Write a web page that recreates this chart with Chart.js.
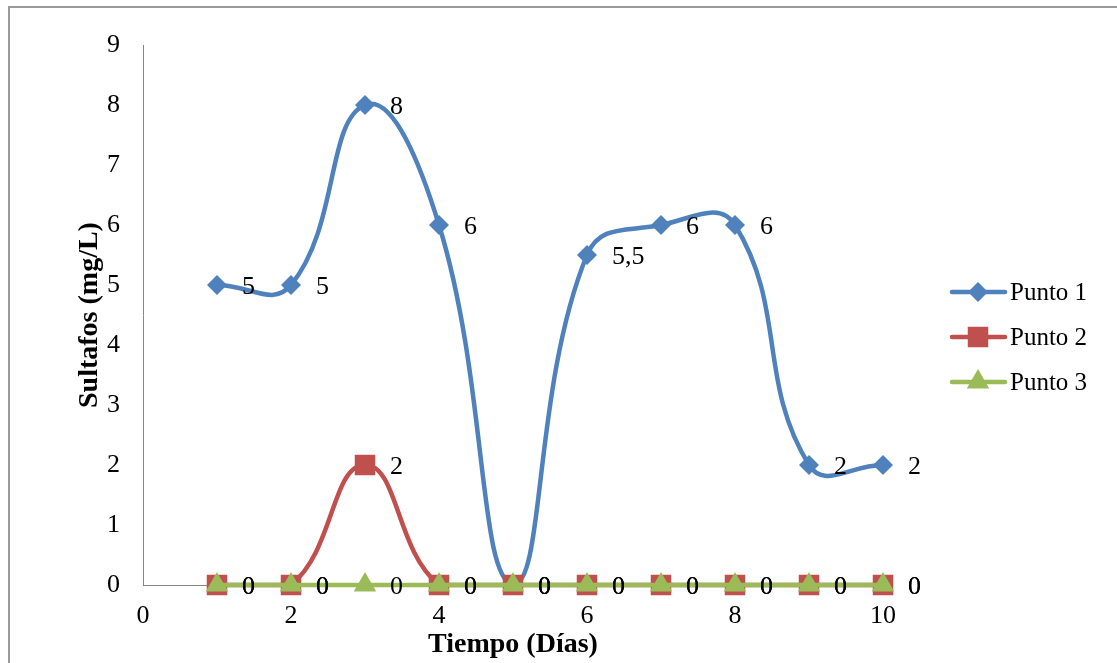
<!DOCTYPE html>
<html>
<head>
<meta charset="utf-8">
<script src="https://cdn.jsdelivr.net/npm/chart.js@4/dist/chart.umd.min.js"></script>
<style>
  html, body { margin: 0; padding: 0; background: #fff; overflow: hidden; }
  #wrap { position: relative; width: 1117px; height: 663px; }
  #frame { position: absolute; left: 8px; top: 6px; width: 2000px; height: 2000px;
           border: 2px solid #9a9a9a; box-sizing: border-box; }
  canvas { position: absolute; left: 0; top: 0; }
</style>
</head>
<body>
<div id="wrap">
  <div id="frame"></div>
  <canvas id="chart" width="1117" height="663"></canvas>
</div>
<script>
// --- data ---
const days = [1, 2, 3, 4, 5, 6, 7, 8, 9, 10];
const punto1 = [5, 5, 8, 6, 0, 5.5, 6, 6, 2, 2];
const punto2 = [0, 0, 2, 0, 0, 0, 0, 0, 0, 0];
const punto3 = [0, 0, 0, 0, 0, 0, 0, 0, 0, 0];
const seriesNames = ['Punto 1', 'Punto 2', 'Punto 3'];
const xTicks = [0, 2, 4, 6, 8, 10];
const yTicks = [0, 1, 2, 3, 4, 5, 6, 7, 8, 9];

const FONT = '"Liberation Serif", "Times New Roman", serif';
const BLUE = '#4F81BD', RED = '#C0504D', GREEN = '#9BBB59';

const toPoints = vals => vals.map((v, i) => ({ x: days[i], y: v }));

function makeSet(label, vals, color, style, radius, order) {
  return {
    label,
    data: toPoints(vals),
    borderColor: color,
    backgroundColor: color,
    borderWidth: 4.5,
    tension: 0.45,
    clip: false,
    pointStyle: style,
    pointRadius: radius,
    pointHoverRadius: radius,
    pointBorderWidth: 0,
    pointBackgroundColor: color,
    order
  };
}

// value labels to the right of each marker (Excel style, comma decimals)
const valueLabels = {
  id: 'valueLabels',
  afterDatasetsDraw(chart) {
    const ctx = chart.ctx;
    ctx.save();
    ctx.font = '26px ' + FONT;
    ctx.fillStyle = '#000';
    ctx.textAlign = 'left';
    ctx.textBaseline = 'middle';
    chart.data.datasets.forEach((ds, i) => {
      chart.getDatasetMeta(i).data.forEach((pt, j) => {
        const txt = String(ds.data[j].y).replace('.', ',');
        ctx.fillText(txt, pt.x + 25, pt.y + 2);
      });
    });
    ctx.restore();
  }
};

// legend on the right: line with marker, then name
const sideLegend = {
  id: 'sideLegend',
  afterDraw(chart) {
    const ctx = chart.ctx;
    const H = Chart.helpers;
    ctx.save();
    chart.data.datasets.forEach((ds, i) => {
      const y = 292 + i * 45;
      ctx.strokeStyle = ds.borderColor;
      ctx.lineWidth = 4.5;
      ctx.lineCap = 'round';
      ctx.beginPath();
      ctx.moveTo(952, y);
      ctx.lineTo(1005, y);
      ctx.stroke();
      ctx.fillStyle = ds.borderColor;
      H.drawPoint(ctx, { pointStyle: ds.pointStyle, radius: ds.pointRadius, rotation: 0, borderWidth: 0 }, 978, y);
      ctx.fillStyle = '#000';
      ctx.font = '25px ' + FONT;
      ctx.textAlign = 'left';
      ctx.textBaseline = 'middle';
      ctx.fillText(ds.label, 1010, y + 1);
    });
    ctx.restore();
  }
};

new Chart(document.getElementById('chart'), {
  type: 'line',
  data: {
    datasets: [
      makeSet(seriesNames[0], punto1, BLUE, 'rectRot', 10, 3),
      makeSet(seriesNames[1], punto2, RED, 'rect', 14.5, 2),
      makeSet(seriesNames[2], punto3, GREEN, 'triangle', 13, 1)
    ]
  },
  options: {
    responsive: false,
    animation: false,
    events: [],
    layout: { padding: { left: 0, right: 234, top: 45, bottom: 0 } },
    plugins: { legend: { display: false }, tooltip: { enabled: false } },
    scales: {
      x: {
        type: 'linear',
        min: 0, max: 10,
        afterBuildTicks: s => { s.ticks = xTicks.map(v => ({ value: v })); },
        afterFit: s => { s.height = 78; },
        grid: { display: false, drawTicks: false },
        border: { color: '#868686', width: 1 },
        ticks: { color: '#000', font: { family: FONT, size: 26 }, padding: 16 },
        title: { display: true, text: 'Tiempo (Días)', color: '#000',
                 font: { family: FONT, size: 28, weight: 'bold' }, padding: { bottom: 1 } }
      },
      y: {
        min: 0, max: 9,
        afterBuildTicks: s => { s.ticks = yTicks.map(v => ({ value: v })); },
        afterFit: s => { s.width = 143; },
        grid: { display: false, drawTicks: false },
        border: { color: '#868686', width: 1 },
        ticks: { color: '#000', font: { family: FONT, size: 26 }, padding: 23 },
        title: { display: true, text: 'Sultafos (mg/L)', color: '#000',
                 font: { family: FONT, size: 28, weight: 'bold' }, padding: { top: 73 } }
      }
    }
  },
  plugins: [valueLabels, sideLegend]
});
</script>
</body>
</html>
